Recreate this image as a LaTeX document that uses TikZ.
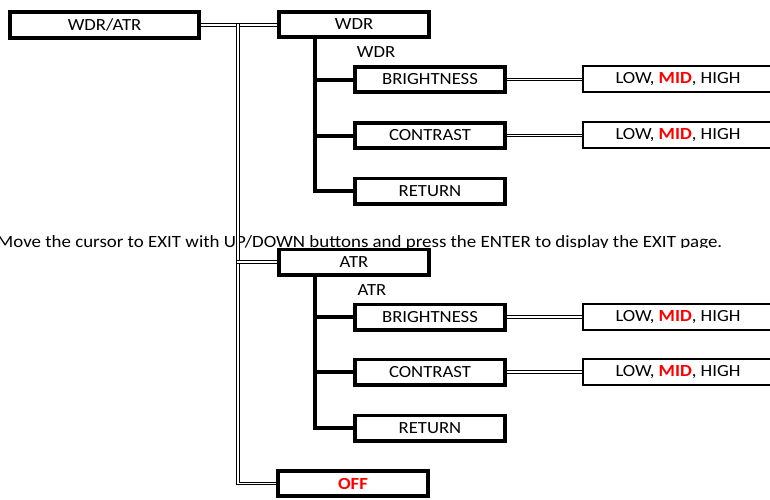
\documentclass[tikz,border=0pt]{standalone}
\usepackage{fontspec}
\setmainfont{Carlito}[FakeStretch=1.1]
\newcommand{\boxfont}{\fontsize{17}{20}\selectfont}
\begin{document}
\begin{tikzpicture}[x=1pt,y=-1pt,
  box/.style={draw, line width=3.8pt, minimum width=150.2pt, minimum height=25.2pt, inner sep=0pt, font=\boxfont},
  valbox/.style={draw, line width=2.2pt, minimum width=190pt, minimum height=26pt, inner sep=0pt, font=\boxfont},
  lab/.style={inner sep=0pt, font=\boxfont},
  dbl/.style={double, line width=1.1pt, double distance=1.7pt},
  tree/.style={line width=4pt},
  hot/.style={text=red, font=\boxfont\bfseries}
]
\useasboundingbox (0,0) rectangle (770,499);
\clip (0,0) rectangle (770,499);

% note line (clipped at its baseline as in the reference)
\begin{scope}
  \clip (-20,220) rectangle (790,247.5);
  \node[lab, anchor=base west, font=\fontsize{17.2}{20}\selectfont] (note) at (-3,247) {Move the cursor to EXIT with UP/DOWN buttons and press the ENTER to display the EXIT page.};
\end{scope}

% boxes
\node[box, minimum width=189.2pt, minimum height=26.2pt] (wdratr) at (104.5,25) {WDR/ATR};
\node[box] (wdr) at (354,24.5) {WDR};
\node[lab] (wdrlab) at (376,52) {WDR};
\node[box] (wb) at (430,79.5) {BRIGHTNESS};
\node[box] (wc) at (430,135.5) {CONTRAST};
\node[box] (wr) at (430,191) {RETURN};
\node[valbox] (wl1) at (678,79) {LOW, \textcolor{red}{\bfseries MID}, HIGH};
\node[valbox] (wl2) at (678,135) {LOW, \textcolor{red}{\bfseries MID}, HIGH};

\node[box] (atr) at (354,262) {ATR};
\node[lab] (atrlab) at (372,290) {ATR};
\node[box] (ab) at (430,317) {BRIGHTNESS};
\node[box] (ac) at (430,372) {CONTRAST};
\node[box] (ar) at (430,428) {RETURN};
\node[valbox] (al1) at (678,317) {LOW, \textcolor{red}{\bfseries MID}, HIGH};
\node[valbox] (al2) at (678,372) {LOW, \textcolor{red}{\bfseries MID}, HIGH};

\node[box, hot] (off) at (353,483.5) {OFF};

% double connectors
\coordinate (vtop) at (238,24.2);
\coordinate (vbot) at (238,483.5);
\coordinate (vatr) at (237,262);
\draw[dbl] (wdratr.east) -- (wdratr.east -| wdr.west);
\draw[dbl] (vtop) -- (vbot) -- (off.west);
\draw[dbl] (vatr) -- (atr.west);
\draw[dbl] (wb.east) -- (wb.east -| wl1.west);
\draw[dbl] (wc.east) -- (wc.east -| wl2.west);
\draw[dbl] (ab.east) -- (ab.east -| al1.west);
\draw[dbl] (ac.east) -- (ac.east -| al2.west);

% tree connectors
\coordinate (wx) at (315,0);
\draw[tree] ([yshift=1.5pt]wdr.south -| wx) |- (wr.west);
\draw[tree] (wb.west -| wx) -- (wb.west);
\draw[tree] (wc.west -| wx) -- (wc.west);
\draw[tree] ([yshift=1.5pt]atr.south -| wx) |- (ar.west);
\draw[tree] (ab.west -| wx) -- (ab.west);
\draw[tree] (ac.west -| wx) -- (ac.west);
\end{tikzpicture}
\end{document}
